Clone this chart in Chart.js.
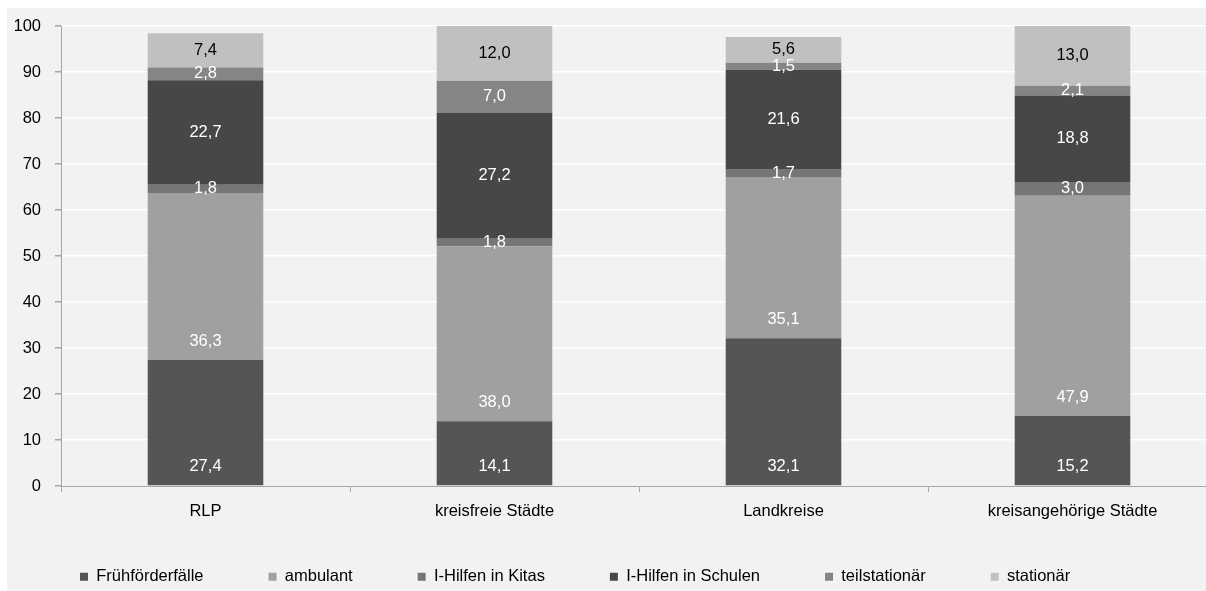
<!DOCTYPE html>
<html lang="de">
<head>
<meta charset="utf-8">
<title>Hilfearten nach Gebietstyp</title>
<script src="https://cdn.jsdelivr.net/npm/chart.js@4.4.1/dist/chart.umd.min.js"></script>
<style>
  html, body { margin: 0; padding: 0; background: #fff; overflow: hidden; }
  #wrap {
    position: absolute; left: 7px; top: 8px;
    width: 1216px; height: 587px;
    background: #f2f2f2;
  }
</style>
</head>
<body>
<div id="wrap"><canvas id="hilfenChart"></canvas></div>
<script>
// Kategorien und Anteile (%)
const gebiete = ["RLP", "kreisfreie Städte", "Landkreise", "kreisangehörige Städte"];
const yTicks = [0, 10, 20, 30, 40, 50, 60, 70, 80, 90, 100];

const fruehfoerderung = [27.4, 14.1, 32.1, 15.2];
const ambulant        = [36.3, 38.0, 35.1, 47.9];
const hilfenKitas     = [1.8, 1.8, 1.7, 3.0];
const hilfenSchulen   = [22.7, 27.2, 21.6, 18.8];
const teilstationaer  = [2.8, 7.0, 1.5, 2.1];
const stationaer      = [7.4, 12.0, 5.6, 13.0];

const SCHRIFT = "'Liberation Sans', Arial, sans-serif";
Chart.defaults.font.family = SCHRIFT;
Chart.defaults.font.size = 16.5;
Chart.defaults.color = "#000";

// lage: "basis" = Wert unten im Segment, "mitte" = Wert mittig
function reihe(label, data, farbe, textFarbe, lage) {
  return {
    label: label,
    data: data,
    backgroundColor: farbe,
    borderWidth: 0,
    barPercentage: 0.4,
    categoryPercentage: 1,
    textFarbe: textFarbe,
    lage: lage
  };
}

// Werte in die Segmente schreiben
const segmentWerte = {
  id: "segmentWerte",
  afterDatasetsDraw(chart) {
    const ctx = chart.ctx;
    ctx.save();
    ctx.font = "16.5px " + SCHRIFT;
    ctx.textAlign = "center";
    ctx.textBaseline = "middle";
    chart.data.datasets.forEach((ds, i) => {
      const meta = chart.getDatasetMeta(i);
      meta.data.forEach((bar, j) => {
        const p = bar.getProps(["x", "y", "base"], true);
        const y = ds.lage === "basis" ? p.base - 19 : (p.y + p.base) / 2;
        ctx.fillStyle = ds.textFarbe;
        ctx.fillText(ds.data[j].toFixed(1).replace(".", ","), p.x, y);
      });
    });
    ctx.restore();
  }
};

new Chart(document.getElementById("hilfenChart"), {
  type: "bar",
  data: {
    labels: gebiete,
    datasets: [
      reihe("Frühförderfälle", fruehfoerderung, "#555555", "#fff", "basis"),
      reihe("ambulant", ambulant, "#a0a0a0", "#fff", "basis"),
      reihe("I-Hilfen in Kitas", hilfenKitas, "#767676", "#fff", "mitte"),
      reihe("I-Hilfen in Schulen", hilfenSchulen, "#474747", "#fff", "mitte"),
      reihe("teilstationär", teilstationaer, "#858585", "#fff", "mitte"),
      reihe("stationär", stationaer, "#c0c0c0", "#000", "mitte")
    ]
  },
  options: {
    responsive: true,
    maintainAspectRatio: false,
    animation: false,
    layout: { padding: { top: 18, right: 6, left: 8, bottom: 0 } },
    plugins: {
      legend: {
        position: "bottom",
        align: "start",
        labels: { boxWidth: 8, boxHeight: 8, padding: 65, color: "#000" }
      },
      tooltip: { enabled: false }
    },
    scales: {
      x: {
        stacked: true,
        border: { color: "#a6a6a6", width: 1 },
        grid: { drawOnChartArea: false, tickLength: 6, tickColor: "#a6a6a6" },
        // Beschriftung unterhalb der Achse, ohne Platz im Layout zu belegen
        ticks: { mirror: true, padding: -35 },
        afterFit(scale) { scale.height = 17.5; }
      },
      y: {
        stacked: true,
        min: 0,
        max: 100,
        afterBuildTicks(scale) { scale.ticks = yTicks.map(v => ({ value: v })); },
        border: { color: "#a6a6a6", width: 1 },
        grid: {
          color: ctx => ctx.tick && ctx.tick.value === 0 ? "rgba(0,0,0,0)" : "#ffffff",
          lineWidth: 1.5,
          tickLength: 6,
          tickColor: "#a6a6a6"
        },
        ticks: { padding: 14 },
        afterFit(scale) {
          scale.width = 46;
          scale.paddingTop = 0;
          scale.paddingBottom = 0;
        }
      }
    }
  },
  plugins: [segmentWerte]
});
</script>
</body>
</html>
